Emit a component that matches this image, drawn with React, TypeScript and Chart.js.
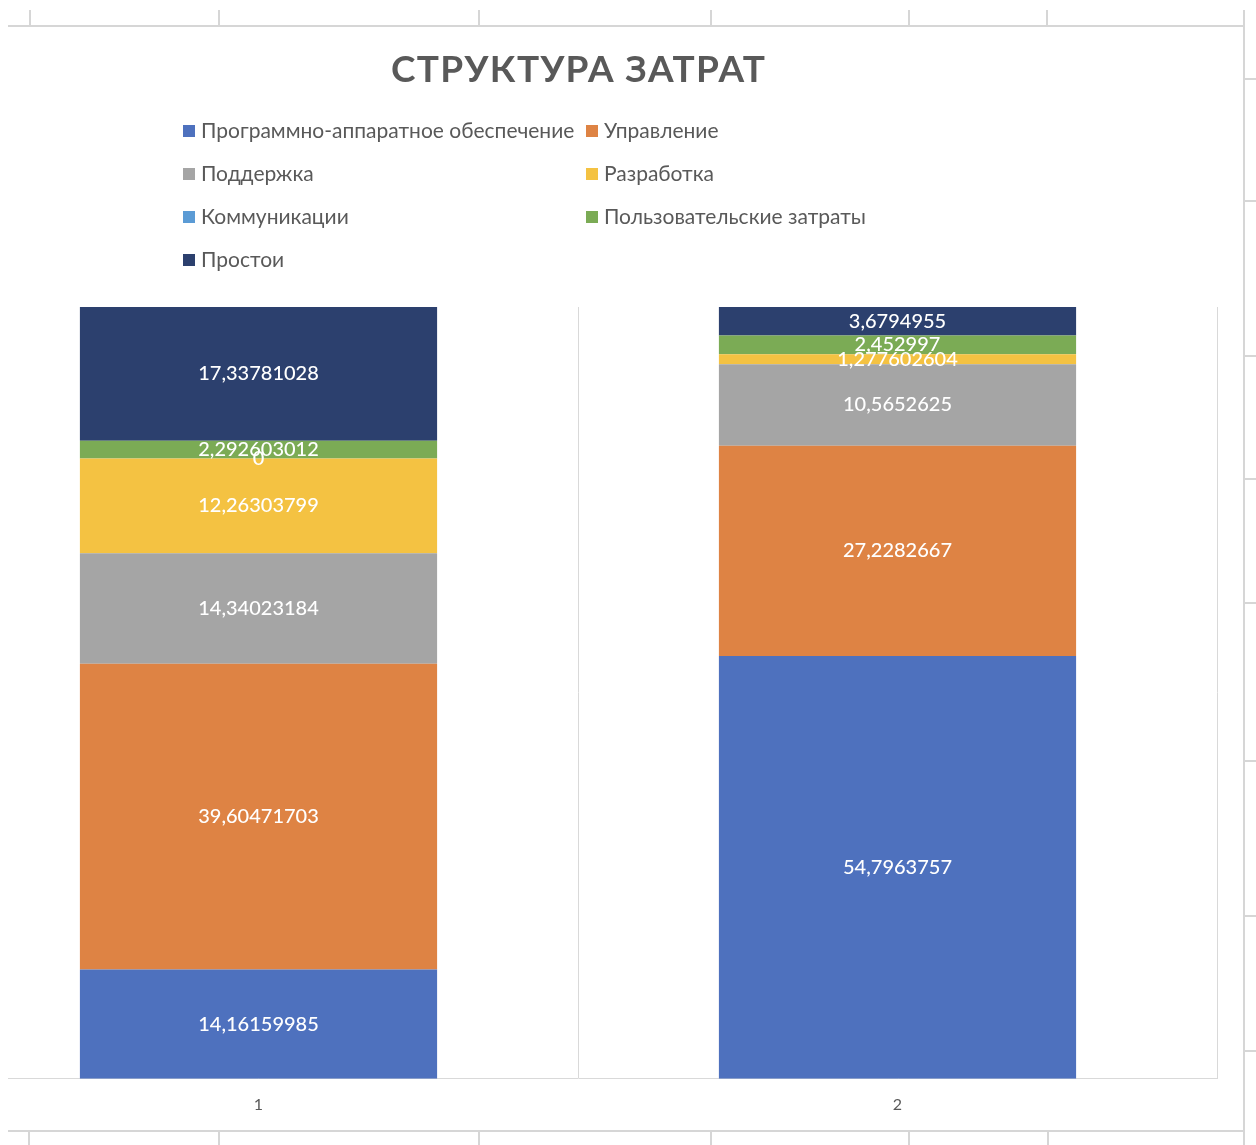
import { useEffect, useRef } from "react";
import { Chart, registerables } from "chart.js";

Chart.register(...registerables);

// ---------- data ----------
const categories = ["1", "2"];
const seriesNames = [
  "Программно-аппаратное обеспечение",
  "Управление",
  "Поддержка",
  "Разработка",
  "Коммуникации",
  "Пользовательские затраты",
  "Простои",
];
const seriesColors = ["#4E71BE", "#DE8344", "#A5A5A5", "#F4C242", "#5B9BD5", "#7BAB55", "#2C406E"];
const hardwareSoftware = [14.16159985, 54.7963757];
const management = [39.60471703, 27.2282667];
const support = [14.34023184, 10.5652625];
const development = [12.26303799, 1.277602604];
const communications: (number | null)[] = [0, null];
const userCosts = [2.292603012, 2.452997];
const downtime = [17.33781028, 3.6794955];
const seriesValues = [hardwareSoftware, management, support, development, communications, userCosts, downtime];
const titleText = "СТРУКТУРА ЗАТРАТ";
const yMin = 0;
const yMax = 100;

const TEXT_GRAY = "#595959";
const LINE_GRAY = "#D9D9D9";

const titleLegendPlugin = {
  id: "titleLegend",
  afterDraw(chart: any) {
    const ctx = chart.ctx as CanvasRenderingContext2D;
    const area = chart.chartArea;
    ctx.save();
    // title
    ctx.font = "bold 37px Lato";
    ctx.fillStyle = TEXT_GRAY;
    ctx.textBaseline = "middle";
    ctx.textAlign = "left";
    (ctx as any).letterSpacing = "0px";
    const natural = ctx.measureText(titleText).width;
    const n = titleText.length;
    const ls = Math.max(0, (374 - natural) / (n - 1));
    (ctx as any).letterSpacing = ls + "px";
    const total = natural + ls * (n - 1);
    const cx = (area.left + area.right) / 2;
    ctx.fillText(titleText, cx - total / 2, 42);
    (ctx as any).letterSpacing = "0px";

    // legend (2-column grid)
    ctx.font = "21px Lato";
    const colX = [265, 668];
    const rowY0 = 103;
    const rowH = 43;
    chart.data.datasets.forEach((ds: any, i: number) => {
      const col = i % 2;
      const row = Math.floor(i / 2);
      const x = colX[col];
      const y = rowY0 + row * rowH;
      ctx.fillStyle = ds.backgroundColor;
      ctx.fillRect(x, y - 6, 12, 12);
      ctx.fillStyle = TEXT_GRAY;
      ctx.textAlign = "left";
      ctx.textBaseline = "middle";
      ctx.fillText(ds.label, x + 18, y);
    });
    ctx.restore();
  },
};

const dataLabelPlugin = {
  id: "segmentLabels",
  afterDatasetsDraw(chart: any) {
    const ctx = chart.ctx as CanvasRenderingContext2D;
    ctx.save();
    ctx.font = "500 20px Lato";
    ctx.fillStyle = "#FFFFFF";
    ctx.textAlign = "center";
    ctx.textBaseline = "middle";
    chart.data.datasets.forEach((ds: any, di: number) => {
      const meta = chart.getDatasetMeta(di);
      meta.data.forEach((el: any, idx: number) => {
        const v = ds.data[idx];
        if (v === null || v === undefined) return;
        const p = el.getCenterPoint();
        ctx.fillText(String(v).replace(".", ","), p.x, p.y);
      });
    });
    ctx.restore();
  },
};

function ChartCanvas() {
  const ref = useRef<HTMLCanvasElement | null>(null);
  useEffect(() => {
    if (!ref.current) return;
    const chart = new Chart(ref.current, {
      type: "bar",
      data: {
        labels: categories,
        datasets: seriesNames.map((name, i) => ({
          label: name,
          data: seriesValues[i],
          backgroundColor: seriesColors[i],
          borderWidth: 0,
          categoryPercentage: 1,
          barPercentage: 0.559,
        })),
      },
      options: {
        animation: false,
        responsive: false,
        maintainAspectRatio: false,
        events: [],
        layout: { padding: { left: 21, right: 27, top: 279, bottom: 2 } },
        plugins: {
          legend: { display: false },
          title: { display: false },
          tooltip: { enabled: false },
        },
        scales: {
          x: {
            stacked: true,
            offset: true,
            grid: { display: true, color: LINE_GRAY, lineWidth: 1, drawTicks: false, offset: true },
            border: { display: true, color: LINE_GRAY, width: 1 },
            ticks: { color: TEXT_GRAY, font: { family: "Lato", size: 16 }, padding: 16 },
          },
          y: {
            stacked: true,
            display: false,
            min: yMin,
            max: yMax,
          },
        },
      },
      plugins: [dataLabelPlugin, titleLegendPlugin],
    });
    return () => chart.destroy();
  }, []);
  return (
    <canvas
      ref={ref}
      width={1326}
      height={1104}
      style={{ position: "absolute", left: -90, top: 0, width: 1326, height: 1104 }}
    />
  );
}

const topTicks = [29, 218, 478, 710, 908, 1046];
const bottomTicks = [28, 218, 478, 710, 908, 1047];
const rightTicks = [78, 200, 355, 478, 602, 760, 915, 1050];

export default function App() {
  const line = (s: any, k: string) => (
    <div key={k} style={{ position: "absolute", background: "#D6D6D6", ...s }} />
  );
  return (
    <div style={{ position: "absolute", left: 0, top: 0, width: 1256, height: 1145, overflow: "hidden", background: "#FFFFFF" }}>
      {topTicks.map((x, i) => line({ left: x, top: 10, width: 2, height: 16 }, "t" + i))}
      {bottomTicks.map((x, i) => line({ left: x, top: 1132, width: 2, height: 13 }, "b" + i))}
      {rightTicks.map((y, i) => line({ left: 1244, top: y, width: 12, height: 2 }, "r" + i))}
      {line({ left: 1243, top: 10, width: 2, height: 1135 }, "rv")}
      <div
        style={{
          position: "absolute",
          left: 8,
          top: 25,
          width: 1235,
          height: 1107,
          borderTop: "2px solid #D6D6D6",
          borderBottom: "2px solid #D6D6D6",
          boxSizing: "border-box",
          background: "#FFFFFF",
          overflow: "hidden",
        }}
      >
        <div style={{ position: "absolute", left: 0, top: 1, width: 1235, height: 1104 }}>
          <ChartCanvas />
        </div>
      </div>
    </div>
  );
}
